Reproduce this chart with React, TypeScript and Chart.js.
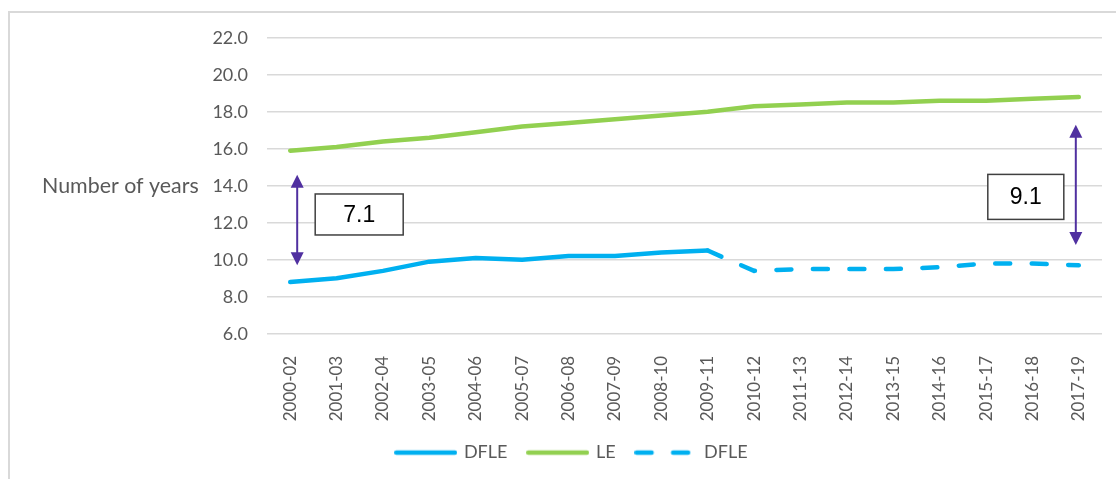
import { useEffect, useRef } from 'react';
import { Chart, registerables } from 'chart.js';

Chart.register(...registerables);

const categories = [
  '2000-02', '2001-03', '2002-04', '2003-05', '2004-06', '2005-07', '2006-08', '2007-09', '2008-10',
  '2009-11', '2010-12', '2011-13', '2012-14', '2013-15', '2014-16', '2015-17', '2016-18', '2017-19',
];

const leValues = [15.9, 16.1, 16.4, 16.6, 16.9, 17.2, 17.4, 17.6, 17.8, 18.0, 18.3, 18.4, 18.5, 18.5, 18.6, 18.6, 18.7, 18.8];

const dfleSolid = [8.8, 9.0, 9.4, 9.9, 10.1, 10.0, 10.2, 10.2, 10.4, 10.5, null, null, null, null, null, null, null, null];

const dfleDashed = [null, null, null, null, null, null, null, null, null, 10.5, 9.4, 9.5, 9.5, 9.5, 9.6, 9.8, 9.8, 9.7];

const yMin = 6;
const yMax = 22;
const yStep = 2;

// gap annotations (years between LE and DFLE)
const gapLabels = ['7.1', '9.1'];
const gapIndex = [0, 17];
const gapArrowTop = [14.6, 17.3];
const gapArrowBottom = [9.7, 10.8];
const gapBoxValue = [12.45, 13.4];

const yTitle = 'Number of years';

const TEXT = '#595959';
const BLUE = '#00B0F0';
const GREEN = '#92D050';
const PURPLE = '#5030A0';

const LINE_W = 4.5;
const DASH = [15, 21.5];
const LEGEND_W = 58.5;

function makeLegendLine(color: string, dash: number[]) {
  const c = document.createElement('canvas');
  c.width = Math.ceil(LEGEND_W + LINE_W);
  c.height = 8;
  const g = c.getContext('2d')!;
  g.strokeStyle = color;
  g.lineWidth = LINE_W;
  g.lineCap = 'round';
  g.setLineDash(dash);
  g.beginPath();
  g.moveTo(LINE_W / 2, 4);
  g.lineTo(LINE_W / 2 + LEGEND_W, 4);
  g.stroke();
  return c;
}

const overlayPlugin = {
  id: 'overlay',
  afterDatasetsDraw(chart: any) {
    const { ctx, chartArea } = chart;
    const x = chart.scales.x;
    const y = chart.scales.y;
    ctx.save();
    ctx.fillStyle = TEXT;
    ctx.font = '21.4px Lato';
    ctx.textAlign = 'left';
    ctx.textBaseline = 'middle';
    ctx.fillText(yTitle, y.left, (chartArea.top + chartArea.bottom) / 2);

    const arrowDx = [7, -3];
    const boxDx = [62, -50];
    const boxW = [88, 76];
    const boxH = [41, 45];
    gapIndex.forEach((idx, k) => {
      const ax = x.getPixelForValue(idx) + arrowDx[k];
      const yt = y.getPixelForValue(gapArrowTop[k]);
      const yb = y.getPixelForValue(gapArrowBottom[k]);
      const head = 13;
      const hw = 6.5;
      ctx.strokeStyle = PURPLE;
      ctx.fillStyle = PURPLE;
      ctx.lineWidth = 2;
      ctx.beginPath();
      ctx.moveTo(ax, yt + head - 1);
      ctx.lineTo(ax, yb - head + 1);
      ctx.stroke();
      ctx.beginPath();
      ctx.moveTo(ax, yt);
      ctx.lineTo(ax - hw, yt + head);
      ctx.lineTo(ax + hw, yt + head);
      ctx.closePath();
      ctx.fill();
      ctx.beginPath();
      ctx.moveTo(ax, yb);
      ctx.lineTo(ax - hw, yb - head);
      ctx.lineTo(ax + hw, yb - head);
      ctx.closePath();
      ctx.fill();

      const cx = ax + boxDx[k];
      const cy = y.getPixelForValue(gapBoxValue[k]);
      ctx.fillStyle = '#FFFFFF';
      ctx.fillRect(cx - boxW[k] / 2, cy - boxH[k] / 2, boxW[k], boxH[k]);
      ctx.strokeStyle = '#404040';
      ctx.lineWidth = 1.5;
      ctx.strokeRect(cx - boxW[k] / 2, cy - boxH[k] / 2, boxW[k], boxH[k]);
      ctx.fillStyle = '#000000';
      ctx.font = '23px "Liberation Sans", Arial, sans-serif';
      ctx.textAlign = 'center';
      ctx.textBaseline = 'middle';
      ctx.fillText(gapLabels[k], cx, cy + 1);
    });
    ctx.restore();
  },
};

export default function App() {
  const canvasRef = useRef<HTMLCanvasElement | null>(null);

  useEffect(() => {
    if (!canvasRef.current) return;
    const legendImgs = [
      makeLegendLine(BLUE, []),
      makeLegendLine(GREEN, []),
      makeLegendLine(BLUE, DASH),
    ];
    const chart = new Chart(canvasRef.current, {
      type: 'line',
      data: {
        labels: categories,
        datasets: [
          {
            label: 'DFLE',
            data: dfleSolid,
            borderColor: BLUE,
            backgroundColor: BLUE,
            borderWidth: LINE_W,
            borderCapStyle: 'round',
            borderJoinStyle: 'round',
            pointRadius: 0,
            tension: 0,
            spanGaps: false,
          },
          {
            label: 'LE',
            data: leValues,
            borderColor: GREEN,
            backgroundColor: GREEN,
            borderWidth: LINE_W,
            borderCapStyle: 'round',
            borderJoinStyle: 'round',
            pointRadius: 0,
            tension: 0,
          },
          {
            label: 'DFLE',
            data: dfleDashed,
            borderColor: BLUE,
            backgroundColor: BLUE,
            borderWidth: LINE_W,
            borderDash: DASH,
            borderCapStyle: 'round',
            borderJoinStyle: 'round',
            pointRadius: 0,
            tension: 0,
            spanGaps: false,
          },
        ],
      },
      options: {
        animation: false,
        responsive: true,
        maintainAspectRatio: false,
        layout: { padding: { top: 29, left: 34, right: 14, bottom: 7.4 } },
        plugins: {
          tooltip: { enabled: false },
          legend: {
            position: 'bottom',
            labels: {
              usePointStyle: true,
              pointStyleWidth: LEGEND_W,
              boxHeight: 18,
              padding: 21,
              color: TEXT,
              font: { family: 'Lato', size: 18 },
              generateLabels: (ch: any) => {
                const items = Chart.defaults.plugins.legend.labels.generateLabels(ch);
                items.forEach((it: any, i: number) => {
                  it.pointStyle = legendImgs[i];
                });
                return items;
              },
            },
          },
        },
        scales: {
          x: {
            offset: true,
            grid: { display: false },
            border: { display: false },
            ticks: {
              minRotation: 90,
              maxRotation: 90,
              padding: 14,
              color: TEXT,
              font: { family: 'Lato', size: 17 },
              autoSkip: false,
            },
            afterFit(scale: any) {
              scale.height = 88.8;
            },
          },
          y: {
            min: yMin,
            max: yMax,
            border: { display: false },
            grid: { color: '#D9D9D9', lineWidth: 1.5, drawTicks: false },
            ticks: {
              stepSize: yStep,
              padding: 19,
              color: TEXT,
              font: { family: 'Lato', size: 18 },
              callback: (v: any) => Number(v).toFixed(1),
            },
            afterFit(scale: any) {
              scale.width = 225;
            },
          },
        },
      },
      plugins: [overlayPlugin],
    });
    return () => chart.destroy();
  }, []);

  return (
    <div style={{ position: 'absolute', top: 8, left: 8, width: 1108, height: 471 }}>
      <div
        style={{
          position: 'absolute',
          top: 3,
          left: 0,
          right: 0,
          bottom: 0,
          borderTop: '2px solid #D9D9D9',
          borderLeft: '2px solid #D9D9D9',
        }}
      />
      <canvas ref={canvasRef} style={{ position: 'absolute', top: 0, left: 0 }} />
    </div>
  );
}
